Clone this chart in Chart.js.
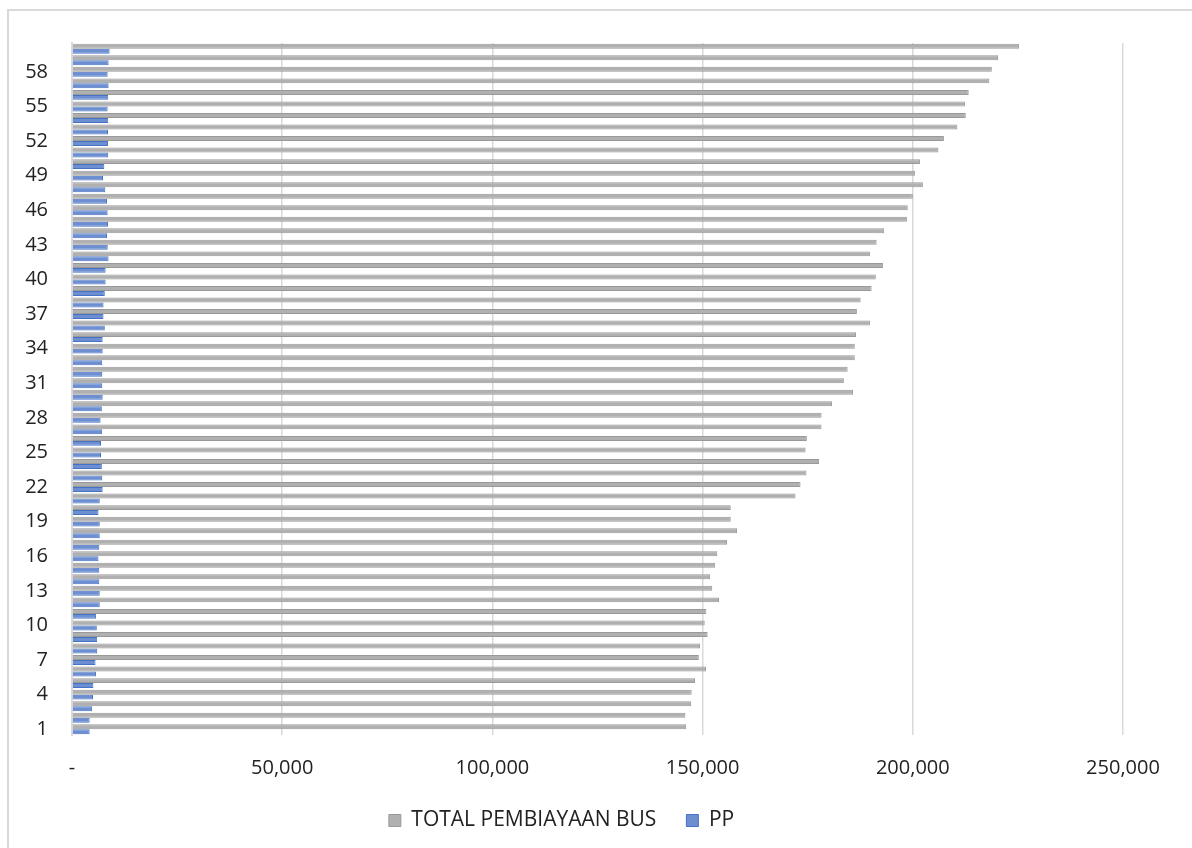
<!DOCTYPE html>
<html>
<head>
<meta charset="utf-8">
<script src="https://cdn.jsdelivr.net/npm/chart.js@4/dist/chart.umd.min.js"></script>
<style>
  html, body { margin: 0; padding: 0; background: #fff; }
  #wrap { position: relative; width: 1192px; height: 848px; overflow: hidden; }
  #frame { position: absolute; left: 7px; top: 9px; width: 1300px; height: 1000px;
           border-left: 2px solid #d9d9d9; border-top: 2px solid #d9d9d9; }
  #grafico { position: absolute; left: 0; top: 0; }
</style>
</head>
<body>
<div id="wrap">
  <div id="frame"></div>
  <canvas id="grafico" width="1192" height="848"></canvas>
</div>
<script>
// categorias 1..60
const categorias = [];
for (let i = 1; i <= 60; i++) categorias.push(String(i));

// TOTAL PEMBIAYAAN BUS (categoria 1 -> 60)
const totalBus = [
  146100, 145900, 147300, 147400, 148200, 150800, 149100, 149400, 151200, 150500,
  150900, 153900, 152300, 151800, 153000, 153500, 155800, 158200, 156700, 156700,
  172100, 173300, 174700, 177700, 174500, 174800, 178300, 178300, 180800, 185800,
  183600, 184500, 186200, 186200, 186500, 189800, 186700, 187600, 190200, 191200,
  192900, 189800, 191400, 193200, 198600, 198800, 200000, 202400, 200500, 201700,
  206100, 207400, 210600, 212600, 212400, 213300, 218200, 218800, 220300, 225300
];

// PP
const pp = [
  4200, 4200, 4800, 5000, 5100, 5700, 5600, 6000, 6000, 5900,
  5700, 6600, 6600, 6500, 6500, 6300, 6500, 6600, 6600, 6300,
  6600, 7300, 7200, 7100, 6900, 6900, 7200, 6800, 7100, 7300,
  7200, 7200, 7200, 7300, 7300, 7800, 7500, 7500, 7800, 8000,
  8000, 8700, 8500, 8320, 8560, 8480, 8320, 7930, 7380, 7690,
  8630, 8560, 8560, 8630, 8480, 8630, 8710, 8480, 8710, 8950
];

const ticksX = [0, 50000, 100000, 150000, 200000, 250000];

const fonte = { family: "'Open Sans', 'Liberation Sans', sans-serif", size: 20 };
const fonteLegenda = { family: "'Open Sans', 'Liberation Sans', sans-serif", size: 21 };

const ctx = document.getElementById('grafico').getContext('2d');
const grafico = new Chart(ctx, {
    type: 'bar',
    data: {
        labels: categorias,
        datasets: [{
            label: 'TOTAL PEMBIAYAAN BUS',
            data: totalBus,
            backgroundColor: '#b0b0b0',
            borderColor: '#999999',
            borderWidth: 1,
            categoryPercentage: 0.86,
            barPercentage: 1
        }, {
            label: 'PP',
            data: pp,
            backgroundColor: '#6d8fd2',
            borderColor: '#4472c4',
            borderWidth: 1,
            categoryPercentage: 0.86,
            barPercentage: 1
        }]
    },
    options: {
        indexAxis: 'y',
        responsive: false,
        animation: false,
        layout: {
            padding: { left: 0, right: 69, top: 43, bottom: 7 }
        },
        scales: {
            x: {
                min: 0,
                max: 250000,
                afterBuildTicks: function(scale) {
                    scale.ticks = ticksX.map(v => ({ value: v }));
                },
                afterFit: function(scale) {
                    scale.height = 45;
                },
                grid: {
                    color: '#d9d9d9',
                    lineWidth: 1.5,
                    drawTicks: false
                },
                border: { display: false },
                ticks: {
                    padding: 21,
                    color: '#222',
                    font: fonte,
                    maxRotation: 0,
                    callback: function(value) {
                        return value === 0 ? '-' : value.toLocaleString('en-US');
                    }
                }
            },
            y: {
                reverse: true,
                afterFit: function(scale) {
                    scale.width = 72;
                },
                grid: {
                    display: false,
                    drawTicks: false
                },
                border: { display: true, color: '#d9d9d9', width: 2 },
                ticks: {
                    autoSkip: false,
                    padding: 24,
                    color: '#222',
                    font: fonte,
                    callback: function(value, index) {
                        return index % 3 === 0 ? this.getLabelForValue(value) : '';
                    }
                }
            }
        },
        plugins: {
            legend: {
                position: 'bottom',
                labels: {
                    boxWidth: 12,
                    boxHeight: 12,
                    padding: 30,
                    color: '#222',
                    font: fonteLegenda
                }
            },
            tooltip: { enabled: false }
        }
    }
});
</script>
</body>
</html>
